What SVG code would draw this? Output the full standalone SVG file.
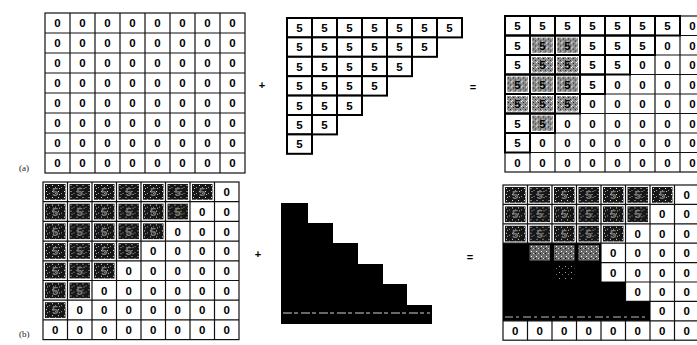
<svg xmlns="http://www.w3.org/2000/svg" xmlns:xlink="http://www.w3.org/1999/xlink" width="697" height="345" viewBox="0 0 697 345">
<style>
.g{fill:none;stroke:#111;stroke-width:1.2}
.bx{fill:none;stroke:#000;stroke-width:2}
.bw{fill:#fff;stroke:#000;stroke-width:2}
.t{font-family:"Liberation Sans",Arial,sans-serif;font-weight:bold;font-size:11.5px;text-anchor:middle;fill:#000}
.ts{fill:#7a7a7a}
.op{font-family:"Liberation Sans",Arial,sans-serif;font-weight:bold;font-size:11px;text-anchor:middle;fill:#000}
.lb{font-family:"Liberation Serif","Times New Roman",serif;font-size:9px;fill:#222}
</style>
<defs>
<pattern id="dk" width="6" height="6" patternUnits="userSpaceOnUse"><rect width="6" height="6" fill="#161616"/><rect x="1" y="1" width="1" height="1" fill="#ddd"/><rect x="4" y="3" width="1" height="1" fill="#999"/><rect x="2" y="4" width="1" height="1" fill="#bbb"/></pattern>
<pattern id="lt" width="5" height="5" patternUnits="userSpaceOnUse"><rect width="5" height="5" fill="#8e8e8e"/><rect x="1" y="1" width="1" height="1" fill="#222"/><rect x="3" y="3" width="1" height="1" fill="#333"/><rect x="4" y="0" width="1" height="1" fill="#fff"/><rect x="0" y="4" width="1" height="1" fill="#ddd"/></pattern>
<pattern id="md" width="5" height="5" patternUnits="userSpaceOnUse"><rect width="5" height="5" fill="#6a6a6a"/><rect x="1" y="1" width="1" height="1" fill="#fff"/><rect x="3" y="3" width="1" height="1" fill="#ddd"/><rect x="0" y="3" width="1" height="1" fill="#111"/></pattern>
<pattern id="fn" width="6" height="6" patternUnits="userSpaceOnUse"><rect width="6" height="6" fill="#000"/><rect x="1" y="2" width="1" height="1" fill="#aaa"/><rect x="4" y="4" width="1" height="1" fill="#777"/></pattern>
<rect id="cs" width="20.5" height="15.7" fill="url(#dk)"/>
<rect id="cl" width="21" height="15.5" fill="url(#lt)"/>
</defs>
<rect width="697" height="345" fill="#fff"/>

<g id="grid-a">
<rect class="g" x="45" y="13" width="200" height="160" stroke-width="1.6"/>
<path class="g" d="M70 13V173M95 13V173M120 13V173M145 13V173M170 13V173M195 13V173M220 13V173M45 33H245M45 53H245M45 73H245M45 93H245M45 113H245M45 133H245M45 153H245"/>
<text class="t" x="57.5" y="27.3">0</text><text class="t" x="82.5" y="27.3">0</text><text class="t" x="107.5" y="27.3">0</text><text class="t" x="132.5" y="27.3">0</text><text class="t" x="157.5" y="27.3">0</text><text class="t" x="182.5" y="27.3">0</text><text class="t" x="207.5" y="27.3">0</text><text class="t" x="232.5" y="27.3">0</text>
<text class="t" x="57.5" y="47.3">0</text><text class="t" x="82.5" y="47.3">0</text><text class="t" x="107.5" y="47.3">0</text><text class="t" x="132.5" y="47.3">0</text><text class="t" x="157.5" y="47.3">0</text><text class="t" x="182.5" y="47.3">0</text><text class="t" x="207.5" y="47.3">0</text><text class="t" x="232.5" y="47.3">0</text>
<text class="t" x="57.5" y="67.3">0</text><text class="t" x="82.5" y="67.3">0</text><text class="t" x="107.5" y="67.3">0</text><text class="t" x="132.5" y="67.3">0</text><text class="t" x="157.5" y="67.3">0</text><text class="t" x="182.5" y="67.3">0</text><text class="t" x="207.5" y="67.3">0</text><text class="t" x="232.5" y="67.3">0</text>
<text class="t" x="57.5" y="87.3">0</text><text class="t" x="82.5" y="87.3">0</text><text class="t" x="107.5" y="87.3">0</text><text class="t" x="132.5" y="87.3">0</text><text class="t" x="157.5" y="87.3">0</text><text class="t" x="182.5" y="87.3">0</text><text class="t" x="207.5" y="87.3">0</text><text class="t" x="232.5" y="87.3">0</text>
<text class="t" x="57.5" y="107.3">0</text><text class="t" x="82.5" y="107.3">0</text><text class="t" x="107.5" y="107.3">0</text><text class="t" x="132.5" y="107.3">0</text><text class="t" x="157.5" y="107.3">0</text><text class="t" x="182.5" y="107.3">0</text><text class="t" x="207.5" y="107.3">0</text><text class="t" x="232.5" y="107.3">0</text>
<text class="t" x="57.5" y="127.3">0</text><text class="t" x="82.5" y="127.3">0</text><text class="t" x="107.5" y="127.3">0</text><text class="t" x="132.5" y="127.3">0</text><text class="t" x="157.5" y="127.3">0</text><text class="t" x="182.5" y="127.3">0</text><text class="t" x="207.5" y="127.3">0</text><text class="t" x="232.5" y="127.3">0</text>
<text class="t" x="57.5" y="147.3">0</text><text class="t" x="82.5" y="147.3">0</text><text class="t" x="107.5" y="147.3">0</text><text class="t" x="132.5" y="147.3">0</text><text class="t" x="157.5" y="147.3">0</text><text class="t" x="182.5" y="147.3">0</text><text class="t" x="207.5" y="147.3">0</text><text class="t" x="232.5" y="147.3">0</text>
<text class="t" x="57.5" y="167.3">0</text><text class="t" x="82.5" y="167.3">0</text><text class="t" x="107.5" y="167.3">0</text><text class="t" x="132.5" y="167.3">0</text><text class="t" x="157.5" y="167.3">0</text><text class="t" x="182.5" y="167.3">0</text><text class="t" x="207.5" y="167.3">0</text><text class="t" x="232.5" y="167.3">0</text>
</g>

<g id="triangle-b">
<rect class="bw" x="287" y="18" width="25" height="19.4"/><rect class="bw" x="312" y="18" width="25" height="19.4"/><rect class="bw" x="337" y="18" width="25" height="19.4"/><rect class="bw" x="362" y="18" width="25" height="19.4"/><rect class="bw" x="387" y="18" width="25" height="19.4"/><rect class="bw" x="412" y="18" width="25" height="19.4"/><rect class="bw" x="437" y="18" width="25" height="19.4"/>
<rect class="bw" x="287" y="37.4" width="25" height="19.4"/><rect class="bw" x="312" y="37.4" width="25" height="19.4"/><rect class="bw" x="337" y="37.4" width="25" height="19.4"/><rect class="bw" x="362" y="37.4" width="25" height="19.4"/><rect class="bw" x="387" y="37.4" width="25" height="19.4"/><rect class="bw" x="412" y="37.4" width="25" height="19.4"/>
<rect class="bw" x="287" y="56.8" width="25" height="19.4"/><rect class="bw" x="312" y="56.8" width="25" height="19.4"/><rect class="bw" x="337" y="56.8" width="25" height="19.4"/><rect class="bw" x="362" y="56.8" width="25" height="19.4"/><rect class="bw" x="387" y="56.8" width="25" height="19.4"/>
<rect class="bw" x="287" y="76.2" width="25" height="19.4"/><rect class="bw" x="312" y="76.2" width="25" height="19.4"/><rect class="bw" x="337" y="76.2" width="25" height="19.4"/><rect class="bw" x="362" y="76.2" width="25" height="19.4"/>
<rect class="bw" x="287" y="95.6" width="25" height="19.4"/><rect class="bw" x="312" y="95.6" width="25" height="19.4"/><rect class="bw" x="337" y="95.6" width="25" height="19.4"/>
<rect class="bw" x="287" y="115" width="25" height="19.4"/><rect class="bw" x="312" y="115" width="25" height="19.4"/>
<rect class="bw" x="287" y="134.4" width="25" height="19.4"/>
<text class="t" x="299.5" y="32">5</text><text class="t" x="324.5" y="32">5</text><text class="t" x="349.5" y="32">5</text><text class="t" x="374.5" y="32">5</text><text class="t" x="399.5" y="32">5</text><text class="t" x="424.5" y="32">5</text><text class="t" x="449.5" y="32">5</text>
<text class="t" x="299.5" y="51.4">5</text><text class="t" x="324.5" y="51.4">5</text><text class="t" x="349.5" y="51.4">5</text><text class="t" x="374.5" y="51.4">5</text><text class="t" x="399.5" y="51.4">5</text><text class="t" x="424.5" y="51.4">5</text>
<text class="t" x="299.5" y="70.8">5</text><text class="t" x="324.5" y="70.8">5</text><text class="t" x="349.5" y="70.8">5</text><text class="t" x="374.5" y="70.8">5</text><text class="t" x="399.5" y="70.8">5</text>
<text class="t" x="299.5" y="90.2">5</text><text class="t" x="324.5" y="90.2">5</text><text class="t" x="349.5" y="90.2">5</text><text class="t" x="374.5" y="90.2">5</text>
<text class="t" x="299.5" y="109.6">5</text><text class="t" x="324.5" y="109.6">5</text><text class="t" x="349.5" y="109.6">5</text>
<text class="t" x="299.5" y="129">5</text><text class="t" x="324.5" y="129">5</text>
<text class="t" x="299.5" y="148.4">5</text>
</g>

<g id="grid-d">
<rect class="g" x="505" y="16" width="200" height="156" stroke-width="1.6"/>
<path class="g" d="M530 16V172M555 16V172M580 16V172M605 16V172M630 16V172M655 16V172M680 16V172M505 35.5H705M505 55H705M505 74.5H705M505 94H705M505 113.5H705M505 133H705M505 152.5H705"/>
<use href="#cl" x="532" y="37.5"/><use href="#cl" x="557" y="37.5"/><use href="#cl" x="532" y="57"/><use href="#cl" x="557" y="57"/><use href="#cl" x="507" y="76.5"/><use href="#cl" x="532" y="76.5"/><use href="#cl" x="557" y="76.5"/><use href="#cl" x="507" y="96"/><use href="#cl" x="532" y="96"/><use href="#cl" x="557" y="96"/><use href="#cl" x="532" y="115.5"/>
<rect class="bx" x="505" y="16" width="25" height="19.5"/><rect class="bx" x="530" y="16" width="25" height="19.5"/><rect class="bx" x="555" y="16" width="25" height="19.5"/><rect class="bx" x="580" y="16" width="25" height="19.5"/><rect class="bx" x="605" y="16" width="25" height="19.5"/><rect class="bx" x="630" y="16" width="25" height="19.5"/><rect class="bx" x="655" y="16" width="25" height="19.5"/>
<rect class="bx" x="505" y="35.5" width="25" height="19.5"/><rect class="bx" x="530" y="35.5" width="25" height="19.5"/><rect class="bx" x="555" y="35.5" width="25" height="19.5"/><rect class="bx" x="580" y="35.5" width="25" height="19.5"/><rect class="bx" x="605" y="35.5" width="25" height="19.5"/><rect class="bx" x="630" y="35.5" width="25" height="19.5"/>
<rect class="bx" x="505" y="55" width="25" height="19.5"/><rect class="bx" x="530" y="55" width="25" height="19.5"/><rect class="bx" x="555" y="55" width="25" height="19.5"/><rect class="bx" x="580" y="55" width="25" height="19.5"/><rect class="bx" x="605" y="55" width="25" height="19.5"/>
<rect class="bx" x="505" y="74.5" width="25" height="19.5"/><rect class="bx" x="530" y="74.5" width="25" height="19.5"/><rect class="bx" x="555" y="74.5" width="25" height="19.5"/><rect class="bx" x="580" y="74.5" width="25" height="19.5"/>
<rect class="bx" x="505" y="94" width="25" height="19.5"/><rect class="bx" x="530" y="94" width="25" height="19.5"/><rect class="bx" x="555" y="94" width="25" height="19.5"/>
<rect class="bx" x="505" y="113.5" width="25" height="19.5"/><rect class="bx" x="530" y="113.5" width="25" height="19.5"/>
<rect class="bx" x="505" y="133" width="25" height="19.5"/>
<text class="t" x="517.5" y="30">5</text><text class="t" x="542.5" y="30">5</text><text class="t" x="567.5" y="30">5</text><text class="t" x="592.5" y="30">5</text><text class="t" x="617.5" y="30">5</text><text class="t" x="642.5" y="30">5</text><text class="t" x="667.5" y="30">5</text><text class="t" x="692.5" y="30">0</text>
<text class="t" x="517.5" y="49.5">5</text><text class="t" x="542.5" y="49.5">5</text><text class="t" x="567.5" y="49.5">5</text><text class="t" x="592.5" y="49.5">5</text><text class="t" x="617.5" y="49.5">5</text><text class="t" x="642.5" y="49.5">5</text><text class="t" x="667.5" y="49.5">0</text><text class="t" x="692.5" y="49.5">0</text>
<text class="t" x="517.5" y="69">5</text><text class="t" x="542.5" y="69">5</text><text class="t" x="567.5" y="69">5</text><text class="t" x="592.5" y="69">5</text><text class="t" x="617.5" y="69">5</text><text class="t" x="642.5" y="69">0</text><text class="t" x="667.5" y="69">0</text><text class="t" x="692.5" y="69">0</text>
<text class="t" x="517.5" y="88.5">5</text><text class="t" x="542.5" y="88.5">5</text><text class="t" x="567.5" y="88.5">5</text><text class="t" x="592.5" y="88.5">5</text><text class="t" x="617.5" y="88.5">0</text><text class="t" x="642.5" y="88.5">0</text><text class="t" x="667.5" y="88.5">0</text><text class="t" x="692.5" y="88.5">0</text>
<text class="t" x="517.5" y="108">5</text><text class="t" x="542.5" y="108">5</text><text class="t" x="567.5" y="108">5</text><text class="t" x="592.5" y="108">0</text><text class="t" x="617.5" y="108">0</text><text class="t" x="642.5" y="108">0</text><text class="t" x="667.5" y="108">0</text><text class="t" x="692.5" y="108">0</text>
<text class="t" x="517.5" y="127.5">5</text><text class="t" x="542.5" y="127.5">5</text><text class="t" x="567.5" y="127.5">0</text><text class="t" x="592.5" y="127.5">0</text><text class="t" x="617.5" y="127.5">0</text><text class="t" x="642.5" y="127.5">0</text><text class="t" x="667.5" y="127.5">0</text><text class="t" x="692.5" y="127.5">0</text>
<text class="t" x="517.5" y="147">5</text><text class="t" x="542.5" y="147">0</text><text class="t" x="567.5" y="147">0</text><text class="t" x="592.5" y="147">0</text><text class="t" x="617.5" y="147">0</text><text class="t" x="642.5" y="147">0</text><text class="t" x="667.5" y="147">0</text><text class="t" x="692.5" y="147">0</text>
<text class="t" x="517.5" y="166.5">0</text><text class="t" x="542.5" y="166.5">0</text><text class="t" x="567.5" y="166.5">0</text><text class="t" x="592.5" y="166.5">0</text><text class="t" x="617.5" y="166.5">0</text><text class="t" x="642.5" y="166.5">0</text><text class="t" x="667.5" y="166.5">0</text><text class="t" x="692.5" y="166.5">0</text>
</g>

<g id="grid-c">
<rect class="g" x="43" y="182" width="196" height="157.6" stroke-width="1.8"/>
<path class="g" d="M67.5 182V339.6M92 182V339.6M116.5 182V339.6M141 182V339.6M165.5 182V339.6M190 182V339.6M214.5 182V339.6M43 201.7H239M43 221.4H239M43 241.1H239M43 260.8H239M43 280.5H239M43 300.2H239M43 319.9H239"/>
<use href="#cs" x="45" y="184"/><use href="#cs" x="69.5" y="184"/><use href="#cs" x="94" y="184"/><use href="#cs" x="118.5" y="184"/><use href="#cs" x="143" y="184"/><use href="#cs" x="167.5" y="184"/><use href="#cs" x="192" y="184"/>
<use href="#cs" x="45" y="203.7"/><use href="#cs" x="69.5" y="203.7"/><use href="#cs" x="94" y="203.7"/><use href="#cs" x="118.5" y="203.7"/><use href="#cs" x="143" y="203.7"/><use href="#cs" x="167.5" y="203.7"/>
<use href="#cs" x="45" y="223.4"/><use href="#cs" x="69.5" y="223.4"/><use href="#cs" x="94" y="223.4"/><use href="#cs" x="118.5" y="223.4"/><use href="#cs" x="143" y="223.4"/>
<use href="#cs" x="45" y="243.1"/><use href="#cs" x="69.5" y="243.1"/><use href="#cs" x="94" y="243.1"/><use href="#cs" x="118.5" y="243.1"/>
<use href="#cs" x="45" y="262.8"/><use href="#cs" x="69.5" y="262.8"/><use href="#cs" x="94" y="262.8"/>
<use href="#cs" x="45" y="282.5"/><use href="#cs" x="69.5" y="282.5"/>
<use href="#cs" x="45" y="302.2"/>
<text class="t ts" x="55.3" y="196.2">5</text><text class="t ts" x="79.8" y="196.2">5</text><text class="t ts" x="104.3" y="196.2">5</text><text class="t ts" x="128.8" y="196.2">5</text><text class="t ts" x="153.3" y="196.2">5</text><text class="t ts" x="177.8" y="196.2">5</text><text class="t ts" x="202.3" y="196.2">5</text><text class="t" x="226.8" y="196.2">0</text>
<text class="t ts" x="55.3" y="215.9">5</text><text class="t ts" x="79.8" y="215.9">5</text><text class="t ts" x="104.3" y="215.9">5</text><text class="t ts" x="128.8" y="215.9">5</text><text class="t ts" x="153.3" y="215.9">5</text><text class="t ts" x="177.8" y="215.9">5</text><text class="t" x="202.3" y="215.9">0</text><text class="t" x="226.8" y="215.9">0</text>
<text class="t ts" x="55.3" y="235.6">5</text><text class="t ts" x="79.8" y="235.6">5</text><text class="t ts" x="104.3" y="235.6">5</text><text class="t ts" x="128.8" y="235.6">5</text><text class="t ts" x="153.3" y="235.6">5</text><text class="t" x="177.8" y="235.6">0</text><text class="t" x="202.3" y="235.6">0</text><text class="t" x="226.8" y="235.6">0</text>
<text class="t ts" x="55.3" y="255.3">5</text><text class="t ts" x="79.8" y="255.3">5</text><text class="t ts" x="104.3" y="255.3">5</text><text class="t ts" x="128.8" y="255.3">5</text><text class="t" x="153.3" y="255.3">0</text><text class="t" x="177.8" y="255.3">0</text><text class="t" x="202.3" y="255.3">0</text><text class="t" x="226.8" y="255.3">0</text>
<text class="t ts" x="55.3" y="275">5</text><text class="t ts" x="79.8" y="275">5</text><text class="t ts" x="104.3" y="275">5</text><text class="t" x="128.8" y="275">0</text><text class="t" x="153.3" y="275">0</text><text class="t" x="177.8" y="275">0</text><text class="t" x="202.3" y="275">0</text><text class="t" x="226.8" y="275">0</text>
<text class="t ts" x="55.3" y="294.7">5</text><text class="t ts" x="79.8" y="294.7">5</text><text class="t" x="104.3" y="294.7">0</text><text class="t" x="128.8" y="294.7">0</text><text class="t" x="153.3" y="294.7">0</text><text class="t" x="177.8" y="294.7">0</text><text class="t" x="202.3" y="294.7">0</text><text class="t" x="226.8" y="294.7">0</text>
<text class="t ts" x="55.3" y="314.4">5</text><text class="t" x="79.8" y="314.4">0</text><text class="t" x="104.3" y="314.4">0</text><text class="t" x="128.8" y="314.4">0</text><text class="t" x="153.3" y="314.4">0</text><text class="t" x="177.8" y="314.4">0</text><text class="t" x="202.3" y="314.4">0</text><text class="t" x="226.8" y="314.4">0</text>
<text class="t" x="55.3" y="334.1">0</text><text class="t" x="79.8" y="334.1">0</text><text class="t" x="104.3" y="334.1">0</text><text class="t" x="128.8" y="334.1">0</text><text class="t" x="153.3" y="334.1">0</text><text class="t" x="177.8" y="334.1">0</text><text class="t" x="202.3" y="334.1">0</text><text class="t" x="226.8" y="334.1">0</text>
</g>

<g id="mask-e">
<path fill="#000" d="M281 203H308V223H333V243H358V264H383V284H407V305H432V324H281Z"/>
<path d="M283 313H430" stroke="#d0d0d0" stroke-width="1" stroke-dasharray="9 2 4 3"/>
</g>

<g id="grid-f">
<rect class="g" x="503" y="185" width="196" height="155.2" stroke-width="1.8"/>
<path class="g" d="M527.5 185V340.2M552 185V340.2M576.5 185V340.2M601 185V340.2M625.5 185V340.2M650 185V340.2M674.5 185V340.2M503 204.4H699M503 223.8H699M503 243.2H699M503 262.6H699M503 282H699M503 301.4H699M503 320.8H699"/>
<path fill="#000" d="M503 243.2H601V282H625.5V301.4H650V320.8H503Z"/>
<path d="M505 317H648" stroke="#bdbdbd" stroke-width="1" stroke-dasharray="8 3 3 4"/>
<rect x="529.5" y="245.2" width="20.5" height="15.4" fill="url(#md)"/><rect x="554" y="245.2" width="20.5" height="15.4" fill="url(#md)"/><rect x="578.5" y="245.2" width="20.5" height="15.4" fill="url(#md)"/>
<rect x="554" y="264.6" width="20.5" height="15.4" fill="url(#fn)"/>
<use href="#cs" x="505" y="187"/><use href="#cs" x="529.5" y="187"/><use href="#cs" x="554" y="187"/><use href="#cs" x="578.5" y="187"/><use href="#cs" x="603" y="187"/><use href="#cs" x="627.5" y="187"/><use href="#cs" x="652" y="187"/>
<use href="#cs" x="505" y="206.4"/><use href="#cs" x="529.5" y="206.4"/><use href="#cs" x="554" y="206.4"/><use href="#cs" x="578.5" y="206.4"/><use href="#cs" x="603" y="206.4"/><use href="#cs" x="627.5" y="206.4"/>
<use href="#cs" x="505" y="225.8"/><use href="#cs" x="529.5" y="225.8"/><use href="#cs" x="554" y="225.8"/><use href="#cs" x="578.5" y="225.8"/><use href="#cs" x="603" y="225.8"/>
<text class="t ts" x="515.3" y="199">5</text><text class="t ts" x="539.8" y="199">5</text><text class="t ts" x="564.3" y="199">5</text><text class="t ts" x="588.8" y="199">5</text><text class="t ts" x="613.3" y="199">5</text><text class="t ts" x="637.8" y="199">5</text><text class="t ts" x="662.3" y="199">5</text><text class="t" x="686.8" y="199">0</text>
<text class="t ts" x="515.3" y="218.4">5</text><text class="t ts" x="539.8" y="218.4">5</text><text class="t ts" x="564.3" y="218.4">5</text><text class="t ts" x="588.8" y="218.4">5</text><text class="t ts" x="613.3" y="218.4">5</text><text class="t ts" x="637.8" y="218.4">5</text><text class="t" x="662.3" y="218.4">0</text><text class="t" x="686.8" y="218.4">0</text>
<text class="t ts" x="515.3" y="237.8">5</text><text class="t ts" x="539.8" y="237.8">5</text><text class="t ts" x="564.3" y="237.8">5</text><text class="t ts" x="588.8" y="237.8">5</text><text class="t ts" x="613.3" y="237.8">5</text><text class="t" x="637.8" y="237.8">0</text><text class="t" x="662.3" y="237.8">0</text><text class="t" x="686.8" y="237.8">0</text>
<text class="t" x="613.3" y="257.2">0</text><text class="t" x="637.8" y="257.2">0</text><text class="t" x="662.3" y="257.2">0</text><text class="t" x="686.8" y="257.2">0</text>
<text class="t" x="613.3" y="276.6">0</text><text class="t" x="637.8" y="276.6">0</text><text class="t" x="662.3" y="276.6">0</text><text class="t" x="686.8" y="276.6">0</text>
<text class="t" x="637.8" y="296">0</text><text class="t" x="662.3" y="296">0</text><text class="t" x="686.8" y="296">0</text>
<text class="t" x="662.3" y="315.4">0</text><text class="t" x="686.8" y="315.4">0</text>
<text class="t" x="515.3" y="334.8">0</text><text class="t" x="539.8" y="334.8">0</text><text class="t" x="564.3" y="334.8">0</text><text class="t" x="588.8" y="334.8">0</text><text class="t" x="613.3" y="334.8">0</text><text class="t" x="637.8" y="334.8">0</text><text class="t" x="662.3" y="334.8">0</text><text class="t" x="686.8" y="334.8">0</text>
</g>

<g id="operators">
<text class="op" x="262" y="89">+</text>
<text class="op" x="473" y="91">=</text>
<text class="op" x="258" y="258">+</text>
<text class="op" x="470" y="261">=</text>
</g>
<g id="connectors"/>
<g id="labels">
<text class="lb" x="19" y="171">(a)</text>
<text class="lb" x="19" y="337">(b)</text>
</g>
</svg>
